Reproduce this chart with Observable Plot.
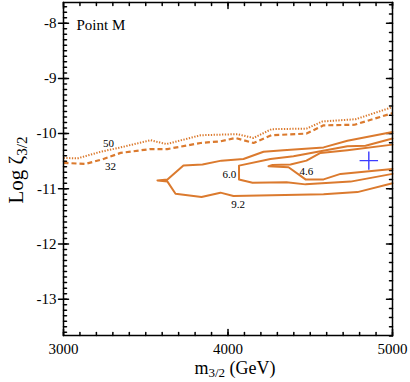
<!DOCTYPE html>
<html><head><meta charset="utf-8">
<script src="https://cdn.jsdelivr.net/npm/d3@7"></script>
<script src="https://cdn.jsdelivr.net/npm/@observablehq/plot@0.6"></script>
<style>body{margin:0;background:#fff} svg{display:block}</style>
</head><body><div id="chart"></div>
<script>
// Contour "50" (dotted)
const dotM = [3000,3085,3225,3347,3529,3626,3833,4058,4155,4264,4477,4574,4775,5000];
const dotZ = [-10.44,-10.45,-10.33,-10.25,-10.12,-10.19,-10.03,-10.01,-10.08,-9.92,-9.91,-9.78,-9.74,-9.52];
// Contour "32" (dashed)
const dashM = [3000,3134,3243,3347,3529,3632,3833,3954,4046,4155,4264,4477,4581,4769,5000];
const dashZ = [-10.53,-10.55,-10.46,-10.35,-10.28,-10.28,-10.17,-10.14,-10.08,-10.17,-10.03,-10.00,-9.85,-9.84,-9.63];
// Contour 9.2
const c92M = [5000,4726,4581,4337,4216,4094,3960,3845,3729,3632,3571,3632,3681,3839,3954,4033,4581,4787,5000];
const c92Z = [-9.97,-10.13,-10.25,-10.30,-10.33,-10.46,-10.49,-10.56,-10.58,-10.83,-10.85,-10.87,-11.09,-11.15,-11.07,-11.13,-11.10,-11.06,-10.90];
// Contour 6.0
const c60M = [5000,4836,4726,4562,4398,4258,4067,4067,4149,4356,4471,4745,5000];
const c60Z = [-10.09,-10.22,-10.23,-10.32,-10.41,-10.46,-10.58,-10.83,-10.89,-10.88,-10.92,-10.87,-10.73];
// Contour 4.6
const c46M = [5000,4726,4562,4477,4380,4271,4246,4368,4471,4581,4684,5000];
const c46Z = [-10.20,-10.30,-10.35,-10.49,-10.56,-10.57,-10.59,-10.61,-10.83,-10.83,-10.73,-10.64];
// Contour labels
const labM = [3274,3286,4009,4477,4061];
const labZ = [-10.18,-10.60,-10.74,-10.69,-11.28];
const labT = ["50","32","6.0","4.6","9.2"];
// Point M marker
const ptM = [4856];
const ptZ = [-10.49];
// Ticks
const xMajor = [3000,4000,5000];
const yMajor = [-13,-12,-11,-10,-9,-8];
const xMinor = d3.range(3000, 5001, 100);
const yMinorL = d3.range(-136, -76, 1).map(d => d / 10);
const yMinorR = d3.range(-82, -45, 1).map(d => d / 6);

const toRows = (ms, zs) => ms.map((m, i) => ({m, z: zs[i]}));
const orange = "#db7a2e";
const tickShape = {draw(ctx, l) { ctx.moveTo(0, 0); ctx.lineTo(0, -l); }};
const font = "'Liberation Serif','Times New Roman',serif";

const plot = Plot.plot({
  width: 410, height: 382,
  marginLeft: 63, marginRight: 18, marginTop: 2, marginBottom: 47,
  style: {fontFamily: font, background: "#fff", color: "black"},
  x: {domain: [3000, 5000]},
  y: {domain: [-13.658, -7.625]},
  marks: [
    Plot.axisX({ticks: xMajor, tickSize: 0, tickPadding: 8, tickFormat: d => String(d), fontSize: 15, fontFamily: font, label: null}),
    Plot.axisY({ticks: yMajor, tickSize: 0, tickPadding: 7, tickFormat: d => String(d), fontSize: 15, fontFamily: font, label: null}),
    // minor / major ticks on all sides
    Plot.vectorX(xMinor, {frameAnchor: "bottom", rotate: 0, length: 3, anchor: "start", shape: tickShape, stroke: "black"}),
    Plot.vectorX(xMajor, {frameAnchor: "bottom", rotate: 0, length: 6, anchor: "start", shape: tickShape, stroke: "black"}),
    Plot.vectorX(xMinor, {frameAnchor: "top", rotate: 180, length: 3, anchor: "start", shape: tickShape, stroke: "black"}),
    Plot.vectorX(xMajor, {frameAnchor: "top", rotate: 180, length: 6, anchor: "start", shape: tickShape, stroke: "black"}),
    Plot.vectorY(yMinorL, {frameAnchor: "left", rotate: 90, length: 3, anchor: "start", shape: tickShape, stroke: "black"}),
    Plot.vectorY(yMajor, {frameAnchor: "left", rotate: 90, length: 10, anchor: "middle", shape: tickShape, stroke: "black"}),
    Plot.vectorY(yMinorR, {frameAnchor: "right", rotate: -90, length: 3, anchor: "start", shape: tickShape, stroke: "black"}),
    Plot.vectorY(yMajor, {frameAnchor: "right", rotate: -90, length: 6, anchor: "start", shape: tickShape, stroke: "black"}),
    // contours
    Plot.line(toRows(dotM, dotZ), {x: "m", y: "z", stroke: orange, strokeWidth: 2, strokeDasharray: "1.3,1.5", strokeLinecap: "butt", strokeLinejoin: "miter"}),
    Plot.line(toRows(dashM, dashZ), {x: "m", y: "z", stroke: orange, strokeWidth: 2.2, strokeDasharray: "5,3", strokeLinecap: "butt", strokeLinejoin: "miter"}),
    Plot.line(toRows(c92M, c92Z), {x: "m", y: "z", stroke: orange, strokeWidth: 2}),
    Plot.line(toRows(c60M, c60Z), {x: "m", y: "z", stroke: orange, strokeWidth: 2}),
    Plot.line(toRows(c46M, c46Z), {x: "m", y: "z", stroke: orange, strokeWidth: 2}),
    Plot.text(labT, {x: (d, i) => labM[i], y: (d, i) => labZ[i], text: d => d, fontSize: 11, fontFamily: font, fill: "black"}),
    Plot.dot(ptM, {x: d => d, y: (d, i) => ptZ[i], symbol: "plus", r: 6, stroke: "#3c3cff", strokeWidth: 1.4}),
    Plot.text(["Point M"], {frameAnchor: "top-left", dx: 13, dy: 17, textAnchor: "start", fontSize: 15, fontFamily: font, fill: "black"}),
    Plot.frame({stroke: "black", strokeWidth: 1.5})
  ]
});

const svg = d3.select(plot);
const xl = svg.append("text").attr("x", 235).attr("y", 374).attr("text-anchor", "middle")
  .attr("font-family", font).attr("font-size", 18).attr("fill", "black");
xl.append("tspan").text("m");
xl.append("tspan").attr("font-size", 13).attr("dy", 3).text("3/2");
xl.append("tspan").attr("dy", -3).text(" (GeV)");

const yl = svg.append("text").attr("transform", "translate(23,170) rotate(-90)").attr("text-anchor", "middle")
  .attr("font-family", font).attr("font-size", 21).attr("fill", "black");
yl.append("tspan").text("Log ζ");
yl.append("tspan").attr("font-size", 15).attr("dy", 4).text("3/2");

document.getElementById("chart").appendChild(plot);
</script>
</body></html>
